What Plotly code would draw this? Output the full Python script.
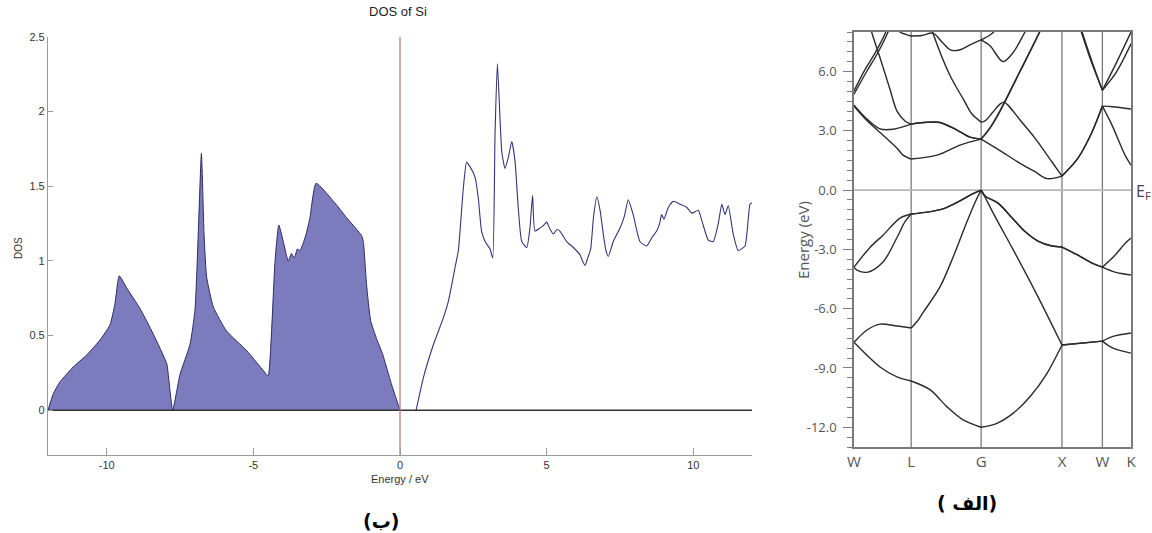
import plotly.graph_objects as go

# ---------------- DOS data (left panel) ----------------
val_e = [-12.0, -11.82, -11.59, -11.14, -10.68, -10.23, -9.89, -9.72, -9.57, -9.32, -8.86, -8.41,
         -7.95, -7.90, -7.75, -7.61, -7.50, -7.16, -6.99, -6.87, -6.77, -6.68, -6.59, -6.36, -5.91,
         -5.23, -4.55, -4.49, -4.26, -4.13, -3.98, -3.81, -3.70, -3.60, -3.50, -3.41, -3.30, -3.20,
         -3.07, -2.86, -2.27, -1.82, -1.31, -1.25, -1.14, -1.00, -0.80, -0.60, -0.30, -0.10, 0.0]
val_d = [0.0, 0.11, 0.19, 0.29, 0.37, 0.47, 0.57, 0.71, 0.90, 0.82, 0.68, 0.51,
         0.31, 0.24, 0.0, 0.13, 0.24, 0.44, 0.67, 1.22, 1.72, 1.18, 0.89, 0.69, 0.53,
         0.40, 0.24, 0.23, 1.00, 1.24, 1.13, 1.00, 1.05, 1.02, 1.08, 1.07, 1.12, 1.18,
         1.29, 1.52, 1.40, 1.29, 1.17, 1.13, 0.84, 0.60, 0.48, 0.38, 0.18, 0.06, 0.0]

con_e = [0.55, 0.80, 1.14, 1.48, 1.65, 1.88, 1.99, 2.16, 2.27, 2.39, 2.56, 2.67, 2.78, 2.90, 3.07,
         3.16, 3.24, 3.32, 3.47, 3.58, 3.69, 3.81, 3.92, 4.03, 4.15, 4.32, 4.43, 4.52, 4.60, 4.77,
         4.90, 5.00, 5.12, 5.23, 5.35, 5.45, 5.68, 5.91, 6.14, 6.22, 6.31, 6.40, 6.50, 6.60, 6.71,
         6.82, 6.93, 7.02, 7.10, 7.27, 7.50, 7.65, 7.78, 7.95, 8.18, 8.41, 8.60, 8.75, 8.85, 8.92,
         9.00, 9.15, 9.32, 9.55, 9.77, 9.95, 10.17, 10.29, 10.51, 10.68, 10.85, 10.97, 11.08, 11.19,
         11.36, 11.53, 11.76, 11.93, 12.0]
con_d = [0.0, 0.22, 0.44, 0.62, 0.73, 0.96, 1.07, 1.49, 1.66, 1.63, 1.56, 1.42, 1.20, 1.13, 1.08,
         1.02, 1.85, 2.32, 1.73, 1.62, 1.69, 1.80, 1.67, 1.36, 1.13, 1.09, 1.22, 1.44, 1.20, 1.22,
         1.24, 1.26, 1.21, 1.18, 1.21, 1.20, 1.13, 1.09, 1.04, 1.00, 0.97, 1.02, 1.08, 1.30, 1.43,
         1.34, 1.18, 1.07, 1.03, 1.13, 1.22, 1.30, 1.41, 1.31, 1.13, 1.10, 1.16, 1.20, 1.25, 1.31,
         1.28, 1.36, 1.40, 1.38, 1.36, 1.32, 1.34, 1.27, 1.14, 1.13, 1.25, 1.38, 1.31, 1.37,
         1.18, 1.07, 1.10, 1.38, 1.39]

dos_xticks = [-10, -5, 0, 5, 10]
dos_xtext = ["-10", "-5", "0", "5", "10"]
dos_yticks = [0, 0.5, 1, 1.5, 2, 2.5]
dos_ytext = ["0", "0.5", "1", "1.5", "2", "2.5"]

# ---------------- Band structure data (right panel) ----------------
kpt_pos = [0.0, 0.707, 1.573, 2.573, 3.073, 3.427]
kpt_lab = ["W", "L", "G", "X", "W", "K"]
band_yticks = [-12, -9, -6, -3, 0, 3, 6]
band_ytext = ["-12.0", "-9.0", "-6.0", "-3.0", "0.0", "3.0", "6.0"]

vb1_k = [0.0, 0.322, 0.532, 0.707, 0.94, 1.151, 1.349, 1.573, 1.769, 1.967, 2.177, 2.388, 2.573, 3.073, 3.204, 3.427]
vb1_e = [-7.7, -8.95, -9.45, -9.66, -10.1, -10.97, -11.63, -12.0, -11.8, -11.3, -10.46, -9.27, -7.84, -7.64, -8.0, -8.25]

vb2_k = [0.0, 0.161, 0.322, 0.532, 0.707, 0.78, 0.854, 1.064, 1.225, 1.373, 1.50, 1.573, 1.62, 1.744, 1.967, 2.264, 2.573, 3.073, 3.204, 3.427]
vb2_e = [-7.7, -7.08, -6.78, -6.88, -6.98, -6.65, -6.2, -4.9, -3.4, -1.85, -0.6, 0.0, -0.35, -1.33, -3.0, -5.3, -7.84, -7.64, -7.4, -7.23]

vb3_k = [0.0, 0.037, 0.173, 0.359, 0.532, 0.631, 0.707, 0.878, 1.101, 1.311, 1.46, 1.573, 1.621, 1.782, 1.955, 2.116, 2.276, 2.45, 2.573, 2.771, 2.944, 3.073, 3.229, 3.353, 3.427]
vb3_e = [-3.9, -4.05, -4.15, -3.64, -2.4, -1.6, -1.21, -1.13, -0.95, -0.55, -0.2, 0.0, -0.3, -0.66, -1.4, -2.1, -2.58, -2.83, -2.88, -3.29, -3.7, -3.9, -3.3, -2.7, -2.43]

vb4_k = [0.0, 0.198, 0.359, 0.569, 0.707, 0.878, 1.101, 1.311, 1.46, 1.573, 1.621, 1.782, 1.955, 2.116, 2.276, 2.45, 2.573, 2.771, 2.944, 3.073, 3.229, 3.427]
vb4_e = [-3.9, -2.9, -2.28, -1.42, -1.21, -1.13, -0.95, -0.55, -0.2, 0.0, -0.3, -0.66, -1.4, -2.1, -2.58, -2.83, -2.88, -3.29, -3.7, -3.9, -4.15, -4.3]

cb1_k = [0.0, 0.16, 0.359, 0.532, 0.607, 0.707, 1.027, 1.311, 1.573, 1.806, 2.029, 2.239, 2.388, 2.573, 2.771, 2.944, 3.073, 3.192, 3.353, 3.427]
cb1_e = [4.25, 3.52, 2.78, 2.12, 1.77, 1.57, 1.77, 2.28, 2.58, 2.0, 1.42, 0.93, 0.58, 0.71, 1.62, 2.93, 4.25, 3.29, 1.77, 1.26]

cb2_k = [0.0, 0.16, 0.322, 0.483, 0.707, 0.903, 1.064, 1.274, 1.435, 1.573, 1.683, 1.806, 2.053, 2.301, 2.36]
cb2_e = [4.3, 3.6, 3.1, 3.08, 3.34, 3.43, 3.42, 3.04, 2.68, 2.58, 3.15, 4.0, 6.0, 8.04, 8.6]

cb3_k = [0.19, 0.223, 0.322, 0.445, 0.532, 0.631, 0.707, 0.903, 1.064, 1.274, 1.435, 1.573, 1.683, 1.806, 2.053, 2.301, 2.36]
cb3_e = [8.5, 7.94, 6.7, 5.1, 4.0, 3.5, 3.34, 3.43, 3.42, 3.04, 2.68, 2.58, 3.15, 4.0, 6.0, 8.04, 8.6]

cb4_k = [0.95, 0.977, 1.188, 1.36, 1.46, 1.573, 1.621, 1.72, 1.806, 1.856, 1.905, 2.054, 2.239, 2.45, 2.573, 2.771, 2.944, 3.073, 3.2, 3.427]
cb4_e = [8.3, 7.94, 5.8, 4.55, 3.85, 3.44, 3.5, 3.95, 4.35, 4.45, 4.3, 3.55, 2.63, 1.42, 0.71, 1.62, 2.93, 4.25, 4.22, 4.1]

cb5_k = [0.0, 0.157, 0.281, 0.424, 0.47]
cb5_e = [4.85, 6.0, 6.85, 8.03, 8.6]

cb6_k = [0.0, 0.136, 0.26, 0.396, 0.44]
cb6_e = [5.02, 6.1, 6.93, 8.03, 8.6]

cb7_k = [0.5, 0.569, 0.707, 0.84, 0.977, 1.101, 1.2, 1.311, 1.435, 1.573, 1.683, 1.843, 1.967, 2.116, 2.2]
cb7_e = [8.3, 8.0, 7.8, 7.82, 7.94, 7.44, 7.08, 7.1, 7.35, 7.6, 7.3, 6.5, 6.95, 8.0, 8.6]

cb8_k = [1.573, 1.683, 1.75, 1.8]
cb8_e = [7.6, 7.85, 8.1, 8.5]

cb9_k = [2.80, 2.82, 2.944, 3.073, 3.229, 3.427]
cb9_e = [8.3, 8.03, 6.51, 5.05, 6.3, 8.0]

cb10_k = [2.79, 2.81, 2.94, 3.073, 3.25, 3.427]
cb10_e = [8.3, 8.03, 6.45, 5.05, 6.0, 7.4]

W, H = 1152, 533
L_X0, L_X1, L_Y0, L_Y1 = 48, 752, 37, 455
R_X0, R_X1, R_Y0, R_Y1 = 854, 1131, 32, 447

fig = go.Figure()

fig.add_trace(go.Scatter(x=val_e, y=val_d, mode="lines", fill="tozeroy",
                         fillcolor="#7b7bbd",
                         line=dict(color="#2c2c66", width=1, shape="spline", smoothing=0.5),
                         xaxis="x", yaxis="y", hoverinfo="skip"))
fig.add_trace(go.Scatter(x=con_e, y=con_d, mode="lines",
                         line=dict(color="#34347a", width=1.1, shape="spline", smoothing=0.5),
                         xaxis="x", yaxis="y", hoverinfo="skip"))
fig.add_trace(go.Scatter(x=[-12, 12], y=[0, 0], mode="lines",
                         line=dict(color="#333333", width=1.6),
                         xaxis="x", yaxis="y", hoverinfo="skip"))
fig.add_trace(go.Scatter(x=[0, 0], y=[-0.3, 2.5], mode="lines",
                         line=dict(color="#c27a7a", width=1.3),
                         xaxis="x", yaxis="y", hoverinfo="skip"))

for kp in kpt_pos[1:-1]:
    fig.add_trace(go.Scatter(x=[kp, kp], y=[-13, 8], mode="lines",
                             line=dict(color="#7a7a7a", width=1.3),
                             xaxis="x2", yaxis="y2", hoverinfo="skip"))
fig.add_trace(go.Scatter(x=[kpt_pos[0], kpt_pos[-1]], y=[0, 0], mode="lines",
                         line=dict(color="#b8b8b8", width=1.6),
                         xaxis="x2", yaxis="y2", hoverinfo="skip"))


def segments(bk, be):
    """Split a band at the high-symmetry points so kinks stay sharp."""
    segs, cur_k, cur_e = [], [], []
    for kv, ev in zip(bk, be):
        cur_k.append(kv)
        cur_e.append(ev)
        if any(abs(kv - p) < 1e-6 for p in kpt_pos) and len(cur_k) > 1:
            segs.append((cur_k, cur_e))
            cur_k, cur_e = [kv], [ev]
    if len(cur_k) > 1:
        segs.append((cur_k, cur_e))
    return segs


bands = [(vb1_k, vb1_e), (vb2_k, vb2_e), (vb3_k, vb3_e), (vb4_k, vb4_e),
         (cb1_k, cb1_e), (cb2_k, cb2_e), (cb3_k, cb3_e), (cb4_k, cb4_e),
         (cb5_k, cb5_e), (cb6_k, cb6_e), (cb7_k, cb7_e), (cb8_k, cb8_e),
         (cb9_k, cb9_e), (cb10_k, cb10_e)]
for bk, be in bands:
    for sk, se in segments(bk, be):
        fig.add_trace(go.Scatter(x=sk, y=se, mode="lines",
                                 line=dict(color="#2a2a2a", width=1.4, shape="spline", smoothing=0.9),
                                 xaxis="x2", yaxis="y2", hoverinfo="skip"))

minor_vals = [v / 2 for v in range(-26, 17) if (v / 2) not in band_yticks]

fig.update_layout(
    width=W, height=H,
    margin=dict(l=0, r=0, t=0, b=0, autoexpand=False),
    paper_bgcolor="white", plot_bgcolor="white",
    showlegend=False,
    xaxis=dict(domain=[L_X0 / W, L_X1 / W], range=[-12, 12], anchor="y", automargin=False,
               showgrid=False, zeroline=False, showline=True, linecolor="#9a9a9a", linewidth=1.2,
               ticks="inside", ticklen=7, tickcolor="#9a9a9a", tickwidth=1,
               tickmode="array", tickvals=dos_xticks, ticktext=dos_xtext,
               tickfont=dict(family="Liberation Sans, Arial", size=11, color="#333")),
    yaxis=dict(domain=[1 - L_Y1 / H, 1 - L_Y0 / H], range=[-0.3, 2.5], anchor="x", automargin=False,
               showgrid=False, zeroline=False, showline=True, linecolor="#9a9a9a", linewidth=1.2,
               ticks="inside", ticklen=5, tickcolor="#9a9a9a", tickwidth=1,
               tickmode="array", tickvals=dos_yticks, ticktext=dos_ytext,
               tickfont=dict(family="Liberation Sans, Arial", size=11, color="#333")),
    xaxis2=dict(domain=[R_X0 / W, R_X1 / W], range=[kpt_pos[0], kpt_pos[-1]], anchor="y2", automargin=False,
                showgrid=False, zeroline=False, showline=True, mirror=True,
                linecolor="#7a7a7a", linewidth=1.5, ticks="",
                tickmode="array", tickvals=kpt_pos, ticktext=kpt_lab,
                tickfont=dict(family="Open Sans, Noto Sans", size=15, color="#555")),
    yaxis2=dict(domain=[1 - R_Y1 / H, 1 - R_Y0 / H], range=[-13, 8], anchor="x2", automargin=False,
                showgrid=False, zeroline=False, showline=True, mirror=True,
                linecolor="#7a7a7a", linewidth=1.5,
                ticks="outside", ticklen=9, tickcolor="#7a7a7a", tickwidth=1.3,
                tickmode="array", tickvals=band_yticks, ticktext=band_ytext,
                ticklabelstandoff=4,
                minor=dict(tickvals=minor_vals, ticks="outside", ticklen=5,
                           tickcolor="#7a7a7a", tickwidth=1.2, showgrid=False),
                tickfont=dict(family="Open Sans, Noto Sans", size=13, color="#555")),
)

annos = [
    dict(text="DOS of Si", x=398 / W, y=1 - 12 / H, font=dict(family="Liberation Sans, Arial", size=13, color="#222")),
    dict(text="DOS", x=18 / W, y=1 - 248 / H, textangle=-90, font=dict(family="Liberation Sans, Arial", size=10, color="#333")),
    dict(text="Energy / eV", x=400 / W, y=1 - 479 / H, font=dict(family="Liberation Sans, Arial", size=11, color="#333")),
    dict(text="Energy (eV)", x=803 / W, y=1 - 240 / H, textangle=-90, font=dict(family="Open Sans, Noto Sans", size=15, color="#555")),
    dict(text="E<sub>F</sub>", x=1134 / W, y=1 - 192 / H, xanchor="left", font=dict(family="Open Sans, Noto Sans", size=16, color="#444")),
    dict(text="<b>(ب)</b>", x=381 / W, y=1 - 521 / H, font=dict(family="DejaVu Sans", size=19, color="#000")),
    dict(text="<b>( الف)</b>", x=967 / W, y=1 - 503 / H, font=dict(family="DejaVu Sans", size=19, color="#000")),
]
for a in annos:
    a.setdefault("xanchor", "center")
    fig.add_annotation(xref="paper", yref="paper", yanchor="middle", showarrow=False, **a)

# remove the default 8px page margin so the figure fills the window exactly
page_fix = "document.body.style.margin='0';document.body.style.overflow='hidden';"
fig.write_html("out.html", post_script=page_fix, config={"displayModeBar": False})
